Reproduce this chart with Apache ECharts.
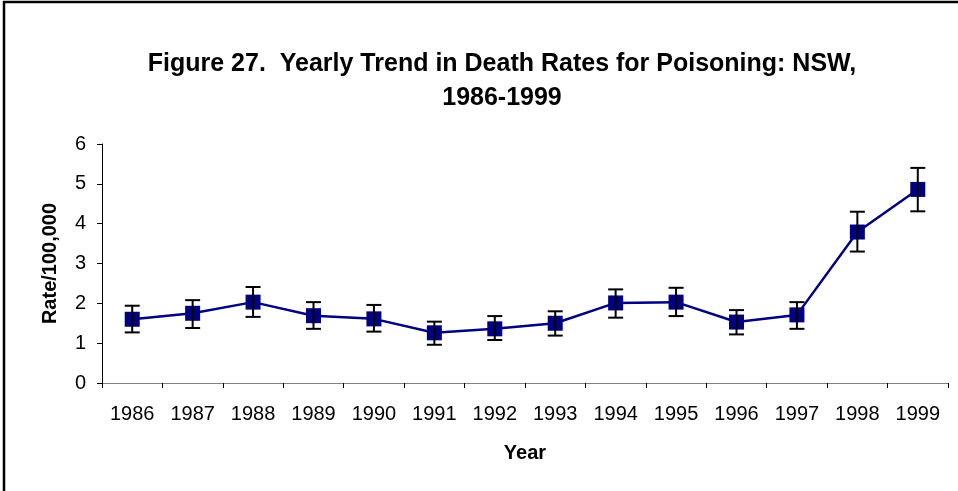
<!DOCTYPE html>
<html>
<head>
<meta charset="utf-8">
<script src="https://cdn.jsdelivr.net/npm/echarts@6/dist/echarts.min.js"></script>
<style>
  html, body { margin: 0; padding: 0; background: #fff; }
  #chart { width: 958px; height: 491px; }
</style>
</head>
<body>
<div id="chart"></div>
<script>
const years = ['1986', '1987', '1988', '1989', '1990', '1991', '1992', '1993', '1994', '1995', '1996', '1997', '1998', '1999'];
const rates = [1.60, 1.75, 2.03, 1.69, 1.61, 1.26, 1.36, 1.50, 2.01, 2.03, 1.53, 1.71, 3.79, 4.86];
const upper = [1.94, 2.08, 2.41, 2.03, 1.96, 1.54, 1.68, 1.80, 2.35, 2.39, 1.83, 2.03, 4.30, 5.40];
const lower = [1.27, 1.38, 1.66, 1.36, 1.29, 0.96, 1.08, 1.19, 1.64, 1.68, 1.22, 1.36, 3.30, 4.31];

const font = '"Liberation Sans", Arial, sans-serif';

const chart = echarts.init(document.getElementById('chart'));

const errorData = years.map(function (y, i) {
    return [i, lower[i], upper[i]];
});

const option = {
    animation: false,
    title: {
        text: 'Figure 27.  Yearly Trend in Death Rates for Poisoning: NSW,\n1986-1999',
        left: 497,
        top: 42,
        textAlign: 'center',
        textStyle: {
            fontFamily: font,
            fontSize: 25,
            fontWeight: 'bold',
            color: '#000',
            lineHeight: 34
        }
    },
    graphic: [{
        type: 'rect',
        shape: { x: 4, y: 2, width: 970, height: 520 },
        style: { fill: 'none', stroke: '#000', lineWidth: 2.5 },
        silent: true
    }],
    grid: {
        left: 102,
        right: 10,
        top: 144,
        bottom: 108
    },
    xAxis: {
        type: 'category',
        data: years,
        boundaryGap: true,
        name: 'Year',
        nameLocation: 'middle',
        nameGap: 60,
        nameTextStyle: { fontFamily: font, fontSize: 20, fontWeight: 'bold', color: '#000' },
        axisLine: { lineStyle: { color: '#808080', width: 1 } },
        axisTick: { show: true, length: 5, alignWithLabel: false, lineStyle: { color: '#000' } },
        axisLabel: { fontFamily: font, fontSize: 20, color: '#000', margin: 21, interval: 0 },
        splitLine: { show: false }
    },
    yAxis: {
        type: 'value',
        min: 0,
        max: 6,
        interval: 1,
        name: 'Rate/100,000',
        nameLocation: 'middle',
        nameGap: 42,
        nameRotate: 90,
        nameTextStyle: { fontFamily: font, fontSize: 20, fontWeight: 'bold', color: '#000' },
        axisLine: { show: true, lineStyle: { color: '#000', width: 1 } },
        axisTick: { show: true, length: 5, lineStyle: { color: '#000' } },
        axisLabel: { fontFamily: font, fontSize: 20, color: '#000', margin: 16 },
        splitLine: { show: false }
    },
    series: [
        {
            type: 'line',
            data: rates,
            symbol: 'rect',
            symbolSize: 15,
            itemStyle: { color: '#000080' },
            lineStyle: { color: '#000080', width: 2.5 },
            z: 2
        },
        {
            type: 'custom',
            data: errorData,
            z: 3,
            renderItem: function (params, api) {
                const x = api.value(0);
                const lo = api.coord([x, api.value(1)]);
                const hi = api.coord([x, api.value(2)]);
                const cap = 7.5;
                const st = { stroke: '#000', lineWidth: 2 };
                return {
                    type: 'group',
                    children: [
                        { type: 'line', shape: { x1: hi[0], y1: hi[1], x2: lo[0], y2: lo[1] }, style: st },
                        { type: 'line', shape: { x1: hi[0] - cap, y1: hi[1], x2: hi[0] + cap, y2: hi[1] }, style: st },
                        { type: 'line', shape: { x1: lo[0] - cap, y1: lo[1], x2: lo[0] + cap, y2: lo[1] }, style: st }
                    ]
                };
            }
        }
    ]
};

chart.setOption(option);
</script>
</body>
</html>
